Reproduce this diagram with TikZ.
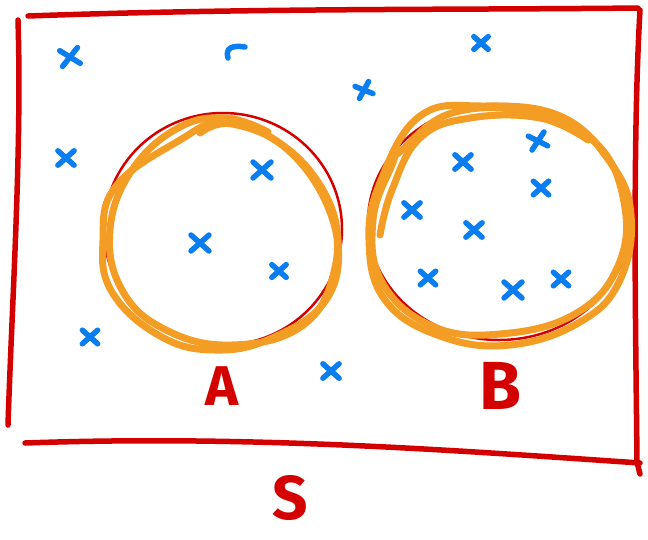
\documentclass[tikz,border=0pt]{standalone}
\usepackage{fontspec}
\setsansfont{Fira Sans}
\definecolor{hred}{RGB}{212,0,0}
\definecolor{hblue}{RGB}{10,125,240}
\definecolor{horange}{RGB}{244,157,37}
\begin{document}
\begin{tikzpicture}[x=1pt,y=-1pt,
  redline/.style={draw=hred,line width=5.5pt,line cap=round,line join=round},
  redthin/.style={draw=hred,line width=2.5pt},
  orangeline/.style={draw=horange,line width=7pt,line cap=round,line join=round},
  bluestroke/.style={draw=hblue,line width=5.5pt,line cap=round},
  lbl/.style={text=hred,font=\sffamily\bfseries,inner sep=0pt},
  bcross/.pic={\draw[bluestroke] (-9,-8)--(9,8); \draw[bluestroke] (-9,8)--(9,-8);}
]
\useasboundingbox (0,0) rectangle (648,539);
% universe rectangle
\draw[redline] (28,16) .. controls (250,8) and (450,10) .. (638,8);
\draw[redline] (18,20) .. controls (22,150) and (12,300) .. (8,425);
\draw[redline] (25,443) .. controls (250,435) and (450,450) .. (640,463);
\draw[redline] (640,10) .. controls (632,150) and (636,350) .. (637,462) -- (640,474);
% red circles
\draw[redthin] (223,229) ellipse [x radius=119, y radius=116];
\draw[redthin] (499,222) ellipse [x radius=131, y radius=118];
% orange scribbles A
\draw[orangeline] plot[smooth cycle,tension=0.7] coordinates {(180,140) (222,122) (272,138) (318,182) (338,240) (326,300) (272,338) (215,350) (160,336) (112,292) (103,240) (116,186)};
\draw[orangeline] plot[smooth,tension=0.7] coordinates {(200,133) (232,124) (288,150) (330,212) (334,272) (302,326) (232,345) (166,330) (122,290) (110,230) (132,170) (178,128) (226,118) (268,132)};
% orange scribbles B
\draw[orangeline] plot[smooth cycle,tension=0.7] coordinates {(420,116) (482,106) (560,116) (610,162) (631,215) (620,280) (580,322) (510,345) (440,336) (385,300) (369,240) (381,180)};
\draw[orangeline] plot[smooth cycle,tension=0.7] coordinates {(402,150) (452,113) (530,112) (595,142) (624,202) (618,266) (575,314) (500,334) (432,326) (382,282) (373,220) (392,165)};
\draw[orangeline] plot[smooth,tension=0.7] coordinates {(380,235) (392,190) (420,138) (470,118) (540,118) (588,140)};
% blue crosses
\pic[rotate=10] at (70,57) {bcross};
\draw[bluestroke] (228,58) .. controls (225,48) and (232,45) .. (245,47);
\pic[scale=0.8] at (481,43) {bcross};
\pic[scale=0.8,rotate=20] at (364,90) {bcross};
\pic[scale=0.9] at (66,158) {bcross};
\pic at (262,170) {bcross};
\pic at (200,243) {bcross};
\pic[scale=0.8] at (279,271) {bcross};
\pic[scale=0.85] at (90,337) {bcross};
\pic[scale=0.9] at (331,371) {bcross};
\pic[scale=0.9] at (463,162) {bcross};
\pic[scale=0.9,rotate=15] at (538,141) {bcross};
\pic[scale=0.85] at (541,188) {bcross};
\pic[scale=0.9] at (412,210) {bcross};
\pic[scale=0.9] at (474,230) {bcross};
\pic[scale=0.85] at (428,278) {bcross};
\pic at (513,290) {bcross};
\pic[scale=0.85] at (561,279) {bcross};
% labels
\node[lbl,font=\sffamily\bfseries\fontsize{56}{56}\selectfont] (labA) at (222,386) {A};
\node[lbl,font=\sffamily\bfseries\fontsize{68}{68}\selectfont] (labB) at (500,386) {B};
\node[lbl,font=\sffamily\bfseries\fontsize{62}{62}\selectfont] (labS) at (290,498) {S};
\end{tikzpicture}
\end{document}
